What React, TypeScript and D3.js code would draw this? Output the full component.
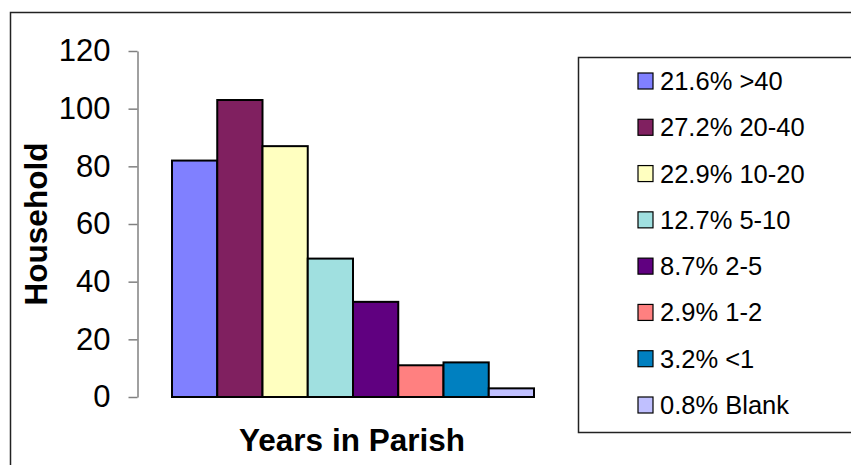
import { useEffect, useRef } from "react";
import * as d3 from "d3";

const categories = [">40", "20-40", "10-20", "5-10", "2-5", "1-2", "<1", "Blank"];
const households = [82, 103, 87, 48, 33, 11, 12, 3];
const percents = ["21.6%", "27.2%", "22.9%", "12.7%", "8.7%", "2.9%", "3.2%", "0.8%"];
const colors = ["#8080FF", "#802060", "#FFFFC0", "#A0E0E0", "#600080", "#FF8080", "#0080C0", "#C0C0FF"];
const yTicks = [0, 20, 40, 60, 80, 100, 120];

const W = 851;
const H = 465;
const fontFace = "Liberation Sans, Arial, sans-serif";

export default function App() {
  const svgRef = useRef<SVGSVGElement | null>(null);

  useEffect(() => {
    const svg = d3.select(svgRef.current);
    svg.selectAll("*").remove();
    svg.style("font-family", fontFace);

    // outer chart frame (runs off the right/bottom edge)
    svg.append("rect")
      .attr("x", 10.5).attr("y", 12.5)
      .attr("width", 900).attr("height", 500)
      .attr("fill", "#fff")
      .attr("stroke", "#222").attr("stroke-width", 1.5);

    const x = d3.scaleBand<string>().domain(categories).range([172, 534]).padding(0);
    const y = d3.scaleLinear().domain([0, 120]).range([397, 51]);

    // y axis
    const axis = svg.append("g")
      .attr("transform", "translate(137.5,0)")
      .call(d3.axisLeft(y).tickValues(yTicks).tickSize(9).tickPadding(18).tickSizeOuter(0));
    axis.select(".domain").attr("stroke", "#808080").attr("stroke-width", 1.5);
    axis.selectAll(".tick line").attr("stroke", "#808080").attr("stroke-width", 1.5);
    axis.selectAll(".tick text")
      .attr("font-size", 31)
      .attr("font-family", fontFace)
      .attr("fill", "#000");

    // bars
    svg.append("g")
      .selectAll("rect")
      .data(households)
      .enter()
      .append("rect")
      .attr("x", (_, i) => x(categories[i]) as number)
      .attr("y", d => y(d))
      .attr("width", x.bandwidth())
      .attr("height", d => y(0) - y(d))
      .attr("fill", (_, i) => colors[i])
      .attr("stroke", "#000")
      .attr("stroke-width", 2);

    // axis titles
    svg.append("text")
      .attr("x", 352).attr("y", 451)
      .attr("text-anchor", "middle")
      .attr("font-size", 31.5).attr("font-weight", "bold")
      .text("Years in Parish");

    svg.append("text")
      .attr("transform", "translate(47,224) rotate(-90)")
      .attr("text-anchor", "middle")
      .attr("font-size", 31.5).attr("font-weight", "bold")
      .text("Household");

    // legend
    svg.append("rect")
      .attr("x", 578.5).attr("y", 57.5)
      .attr("width", 400).attr("height", 375)
      .attr("fill", "#fff")
      .attr("stroke", "#222").attr("stroke-width", 1.5);

    const rowY = d3.scalePoint<string>().domain(categories).range([81, 405]);
    const items = svg.append("g")
      .selectAll("g")
      .data(categories)
      .enter()
      .append("g")
      .attr("transform", d => `translate(0,${rowY(d)})`);

    items.append("rect")
      .attr("x", 638).attr("y", -8)
      .attr("width", 15).attr("height", 16)
      .attr("fill", (_, i) => colors[i])
      .attr("stroke", "#000").attr("stroke-width", 1.2);

    items.append("text")
      .attr("x", 660).attr("dy", "0.35em")
      .attr("font-size", 25.5)
      .text((d, i) => `${percents[i]} ${d}`);
  }, []);

  return (
    <svg
      ref={svgRef}
      width={W}
      height={H}
      style={{ position: "absolute", left: 0, top: 0, background: "#fff" }}
    ></svg>
  );
}
